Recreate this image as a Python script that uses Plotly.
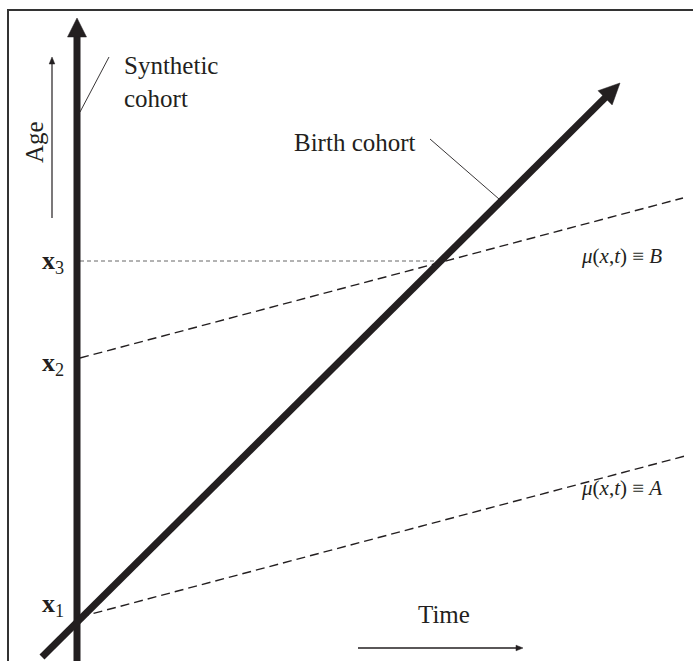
import numpy as np
import plotly.graph_objects as go

# ---- diagram data (diagram units, y grows downward) ----
synthetic_x = [77, 77]
synthetic_y = [661, 18]
cohort_x = [42, 620]
cohort_y = [657, 83]
age_levels = {"x1": 620, "x2": 358, "x3": 261}
hazard_A_x = [80, 685]
hazard_A_y = [617, 456]
hazard_B_x = [80, 683]
hazard_B_y = [358, 198]
x3_guide_x = [80, 440]
age_arrow_x = [52, 52]
age_arrow_y = [218, 57]
time_arrow_x = [358, 523]
time_arrow_y = [648, 648]
synth_leader_x = [109, 80]
synth_leader_y = [57, 112]
birth_leader_x = [430, 499]
birth_leader_y = [139, 199]

W, H = 693, 661
fig = go.Figure()

def line(xs, ys, width, color="#231f20", dash=None):
    fig.add_trace(go.Scatter(x=xs, y=ys, mode="lines",
                             line=dict(color=color, width=width, dash=dash),
                             hoverinfo="skip", showlegend=False))

def head(xs, ys, length, half, color="#231f20"):
    x0, y0, x1, y1 = xs[0], ys[0], xs[1], ys[1]
    d = np.array([x1 - x0, y1 - y0], float)
    d /= np.linalg.norm(d)
    n = np.array([-d[1], d[0]])
    tip = np.array([x1, y1])
    base = tip - d * length
    p1 = base + n * half
    p2 = base - n * half
    fig.add_trace(go.Scatter(x=[tip[0], p1[0], p2[0], tip[0]],
                             y=[tip[1], p1[1], p2[1], tip[1]],
                             mode="lines", fill="toself", fillcolor=color,
                             line=dict(color=color, width=0.5),
                             hoverinfo="skip", showlegend=False))

def shorten(xs, ys, amount):
    d = np.array([xs[1] - xs[0], ys[1] - ys[0]], float)
    L = np.linalg.norm(d)
    d /= L
    return [xs[0], xs[1] - d[0] * amount], [ys[0], ys[1] - d[1] * amount]

# guide and hazard lines
line(x3_guide_x, [age_levels["x3"]] * 2, 0.9, "#555555", "4px,3px")
line(hazard_A_x, hazard_A_y, 1.4, "#231f20", "9px,5px")
line(hazard_B_x, hazard_B_y, 1.4, "#231f20", "9px,5px")

# thick axes / cohort lines
sx, sy = shorten(synthetic_x, synthetic_y, 15)
line(sx, sy, 7)
head(synthetic_x, synthetic_y, 19, 9.5)
cx, cy = shorten(cohort_x, cohort_y, 15)
line(cx, cy, 7)
head(cohort_x, cohort_y, 21, 10)

# thin arrows
ax_, ay_ = shorten(age_arrow_x, age_arrow_y, 4)
line(ax_, ay_, 1.2)
head(age_arrow_x, age_arrow_y, 7, 2.8)
tx_, ty_ = shorten(time_arrow_x, time_arrow_y, 4)
line(tx_, ty_, 1.5)
head(time_arrow_x, time_arrow_y, 7, 2.8)

# leader lines
line(synth_leader_x, synth_leader_y, 0.9)
line(birth_leader_x, birth_leader_y, 0.9)

serif = "Liberation Serif"
ann = []
ann.append(dict(x=122, y=50, text="Synthetic<br>cohort", xanchor="left", yanchor="top",
                align="left", font=dict(family=serif, size=25, color="#231f20")))
ann.append(dict(x=34, y=142, text="Age", textangle=-90, xanchor="center", yanchor="middle",
                font=dict(family=serif, size=25, color="#231f20")))
ann.append(dict(x=355, y=142, text="Birth cohort", xanchor="center", yanchor="middle",
                font=dict(family=serif, size=25, color="#231f20")))
ann.append(dict(x=444, y=614, text="Time", xanchor="center", yanchor="middle",
                font=dict(family=serif, size=25, color="#231f20")))
label_offsets = {"x1": -15, "x2": 6, "x3": 1}
for k, v in age_levels.items():
    ann.append(dict(x=53, y=v + label_offsets[k],
                    text="<b>x</b><sub>" + k[1] + "</sub>", xanchor="center", yanchor="middle",
                    font=dict(family=serif, size=26, color="#231f20")))
ann.append(dict(x=621, y=256, text="<i>μ</i>(<i>x</i>,<i>t</i>) ≡ <i>B</i>", xanchor="center",
                yanchor="middle", font=dict(family=serif, size=21, color="#231f20")))
ann.append(dict(x=621, y=488, text="<i>μ</i>(<i>x</i>,<i>t</i>) ≡ <i>A</i>", xanchor="center",
                yanchor="middle", font=dict(family=serif, size=21, color="#231f20")))
for a in ann:
    a.update(xref="x", yref="y", showarrow=False)

fig.update_layout(
    width=W, height=H, margin=dict(l=0, r=0, t=0, b=0),
    paper_bgcolor="white", plot_bgcolor="white",
    xaxis=dict(range=[0, W], visible=False, fixedrange=True),
    yaxis=dict(range=[H, 0], visible=False, fixedrange=True),
    annotations=ann,
    shapes=[dict(type="rect", xref="x", yref="y", x0=8, y0=10, x1=W + 5, y1=H + 5,
                 line=dict(color="#333333", width=2), layer="below")],
)
fig.write_html("out.html", config={"displayModeBar": False},
               post_script="document.body.style.margin='0';document.body.style.overflow='hidden';")
